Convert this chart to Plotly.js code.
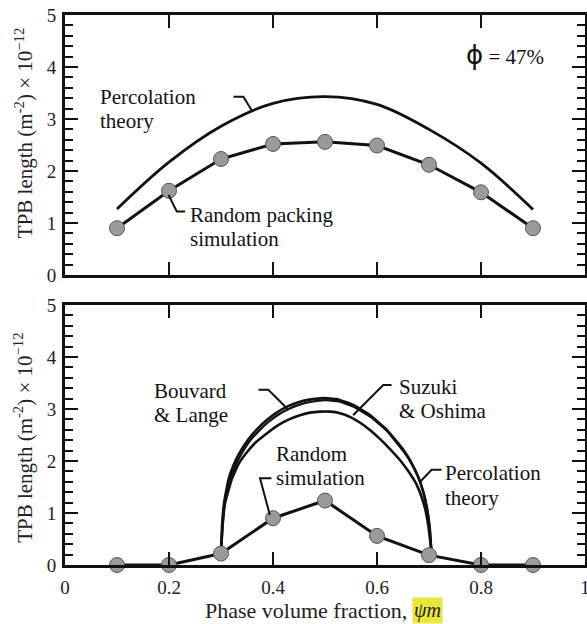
<!DOCTYPE html>
<html>
<head>
<meta charset="utf-8">
<script src="https://cdn.plot.ly/plotly-3.0.1.min.js"></script>
<style>
html,body{margin:0;padding:0;background:#fff;}
#chart{width:587px;height:624px;}
</style>
</head>
<body>
<div id="chart"></div>
<script>
// ---------- data ----------
const phaseFraction = [0.1, 0.2, 0.3, 0.4, 0.5, 0.6, 0.7, 0.8, 0.9];
// Top panel (phi = 47%)
const randomPackingTop = [0.90, 1.62, 2.23, 2.52, 2.56, 2.49, 2.12, 1.59, 0.90];
const percolationTopX = [0.1, 0.2, 0.3, 0.4, 0.5, 0.6, 0.7, 0.8, 0.9];
const percolationTopY = [1.27, 2.17, 2.86, 3.30, 3.43, 3.28, 2.80, 2.15, 1.26];
// Bottom panel
const randomSimBottom = [0, 0, 0.22, 0.90, 1.24, 0.56, 0.19, 0, 0];
const bouvardX = [0.300, 0.302, 0.306, 0.314, 0.324, 0.337, 0.352, 0.369, 0.387, 0.407, 0.426, 0.446, 0.470, 0.497, 0.522, 0.554, 0.587, 0.619, 0.651, 0.666, 0.679, 0.689, 0.696, 0.701, 0.705];
const bouvardY = [0.22, 0.75, 1.20, 1.63, 1.92, 2.18, 2.41, 2.61, 2.78, 2.93, 3.04, 3.12, 3.18, 3.21, 3.19, 3.08, 2.88, 2.60, 2.21, 1.97, 1.70, 1.40, 1.08, 0.70, 0.22];
const percolationBotX = [0.300, 0.303, 0.307, 0.316, 0.327, 0.340, 0.355, 0.372, 0.390, 0.410, 0.430, 0.450, 0.474, 0.500, 0.525, 0.556, 0.589, 0.621, 0.652, 0.667, 0.680, 0.690, 0.697, 0.702, 0.705];
const percolationBotY = [0.22, 0.75, 1.19, 1.62, 1.90, 2.15, 2.38, 2.57, 2.74, 2.89, 3.00, 3.08, 3.14, 3.17, 3.15, 3.04, 2.84, 2.56, 2.17, 1.94, 1.67, 1.38, 1.06, 0.69, 0.22];
const suzukiX = [0.300, 0.303, 0.308, 0.320, 0.333, 0.349, 0.367, 0.388, 0.410, 0.433, 0.452, 0.471, 0.490, 0.510, 0.529, 0.548, 0.567, 0.587, 0.606, 0.625, 0.644, 0.662, 0.676, 0.686, 0.694, 0.700, 0.705];
const suzukiY = [0.22, 0.75, 1.20, 1.63, 1.93, 2.16, 2.36, 2.53, 2.69, 2.81, 2.88, 2.93, 2.95, 2.95, 2.92, 2.85, 2.74, 2.59, 2.42, 2.23, 2.02, 1.78, 1.55, 1.30, 1.02, 0.66, 0.22];
const xTickVals = [0, 0.2, 0.4, 0.6, 0.8, 1];
const xTickText = ["0", "0.2", "0.4", "0.6", "0.8", "1"];
const yTickVals = [0, 1, 2, 3, 4, 5];
const yTickText = ["0", "1", "2", "3", "4", "5"];

// ---------- styles ----------
const FONT = "Liberation Serif";
const INK = "#111";
const lineStyle = {color: INK, width: 3};
const markerStyle = {size: 15, color: "#9a9a9a", line: {color: "#555", width: 1}};

const traces = [
  {x: percolationTopX, y: percolationTopY, xaxis: "x2", yaxis: "y2", mode: "lines",
   line: {color: INK, width: 2.8, shape: "spline", smoothing: 1}, hoverinfo: "skip"},
  {x: phaseFraction, y: randomPackingTop, xaxis: "x2", yaxis: "y2", mode: "lines+markers",
   line: lineStyle, marker: markerStyle, cliponaxis: false},
  {x: bouvardX, y: bouvardY, xaxis: "x", yaxis: "y", mode: "lines",
   line: {color: INK, width: 2.6, shape: "spline", smoothing: 0.3}},
  {x: percolationBotX, y: percolationBotY, xaxis: "x", yaxis: "y", mode: "lines",
   line: {color: INK, width: 2.2, shape: "spline", smoothing: 0.3}},
  {x: suzukiX, y: suzukiY, xaxis: "x", yaxis: "y", mode: "lines",
   line: {color: INK, width: 2.6, shape: "spline", smoothing: 0.3}},
  {x: phaseFraction, y: randomSimBottom, xaxis: "x", yaxis: "y", mode: "lines+markers",
   line: lineStyle, marker: markerStyle, cliponaxis: false}
];

const axisCommon = {
  range: [0, 1], showline: true, linecolor: INK, linewidth: 3, mirror: "ticks",
  ticks: "inside", ticklen: 13, tickwidth: 2, tickcolor: INK,
  tickvals: xTickVals, ticktext: xTickText, showgrid: false, zeroline: false,
  ticklabeloverflow: "allow",
  tickfont: {family: FONT, size: 19, color: "#222"}
};
const yCommon = {
  range: [0, 5], showline: true, linecolor: INK, linewidth: 3, mirror: "ticks",
  ticks: "inside", ticklen: 13, tickwidth: 2, tickcolor: INK,
  tickvals: yTickVals, ticktext: yTickText, showgrid: false, zeroline: false,
  minor: {dtick: 0.2, ticks: "inside", ticklen: 8, tickwidth: 2, tickcolor: INK, showgrid: false},
  tickfont: {family: FONT, size: 19, color: "#222"}, ticklabelstandoff: 2
};

function txt(text, x, y, xref, yref, extra) {
  return Object.assign({text: text, x: x, y: y, xref: xref, yref: yref, showarrow: false,
    xanchor: "left", yanchor: "middle", font: {family: FONT, size: 21, color: "#111"}}, extra || {});
}
function leader(pts, xref, yref) {
  const d = pts.map((p, i) => (i ? "L " : "M ") + p[0] + "," + p[1]).join(" ");
  return {type: "path", path: d, xref: xref, yref: yref, line: {color: INK, width: 2}};
}
const yTitle = "TPB length (m<sup>-2</sup>) × 10<sup>−12</sup>";

const annotations = [
  txt("Percolation", 0.0635, 3.43, "x2", "y2"),
  txt("theory", 0.0635, 2.96, "x2", "y2"),
  txt("Random packing", 0.2365, 1.15, "x2", "y2"),
  txt("simulation", 0.2365, 0.69, "x2", "y2"),
  txt("<span style='font-family:DejaVu Sans;font-size:26px'>ϕ</span> = 47%", 0.846, 4.23, "x2", "y2", {xanchor: "center"}),
  txt("Bouvard", 0.167, 3.34, "x", "y"),
  txt("& Lange", 0.167, 2.88, "x", "y"),
  txt("Suzuki", 0.638, 3.42, "x", "y"),
  txt("& Oshima", 0.638, 2.96, "x", "y"),
  txt("Percolation", 0.727, 1.76, "x", "y"),
  txt("theory", 0.727, 1.29, "x", "y"),
  txt("Random", 0.402, 2.14, "x", "y"),
  txt("simulation", 0.402, 1.68, "x", "y"),
  // axis titles
  txt(yTitle, -0.079, 0.785, "paper", "paper",
      {xanchor: "center", textangle: -90, font: {family: FONT, size: 21, color: "#222"}}),
  txt(yTitle, -0.079, 0.231, "paper", "paper",
      {xanchor: "center", textangle: -90, font: {family: FONT, size: 21, color: "#222"}}),
  txt("Phase volume fraction,", 0.661, -0.082, "paper", "paper",
      {xanchor: "right", font: {family: FONT, size: 22, color: "#222"}}),
  txt("<i>ψm</i>", 0.698, -0.082, "paper", "paper",
      {xanchor: "center", bgcolor: "#e8e83a", borderpad: 1, font: {family: FONT, size: 20, color: "#222"}})
];

const shapes = [
  leader([[0.324, 3.43], [0.343, 3.43], [0.359, 3.17]], "x2", "y2"),
  leader([[0.199, 1.54], [0.215, 1.22], [0.231, 1.22]], "x2", "y2"),
  leader([[0.372, 3.37], [0.391, 3.37], [0.43, 2.98]], "x", "y"),
  leader([[0.628, 3.46], [0.612, 3.46], [0.554, 2.88]], "x", "y"),
  leader([[0.724, 1.83], [0.705, 1.83], [0.683, 1.60]], "x", "y"),
  leader([[0.397, 1.67], [0.375, 1.67], [0.394, 0.96]], "x", "y")
];

const layout = {
  width: 587, height: 624,
  margin: {l: 65, r: 2, t: 15, b: 59, pad: 0},
  paper_bgcolor: "#fff", plot_bgcolor: "#fff",
  showlegend: false,
  font: {family: FONT},
  xaxis: Object.assign({}, axisCommon, {domain: [0, 1], anchor: "y", ticklabelstandoff: 3}),
  yaxis: Object.assign({}, yCommon, {domain: [0, 0.4727], anchor: "x"}),
  xaxis2: Object.assign({}, axisCommon, {domain: [0, 1], anchor: "y2", showticklabels: false}),
  yaxis2: Object.assign({}, yCommon, {domain: [0.5273, 1], anchor: "x2"}),
  annotations: annotations,
  shapes: shapes
};

Plotly.newPlot("chart", traces, layout, {displayModeBar: false});
</script>
</body>
</html>
